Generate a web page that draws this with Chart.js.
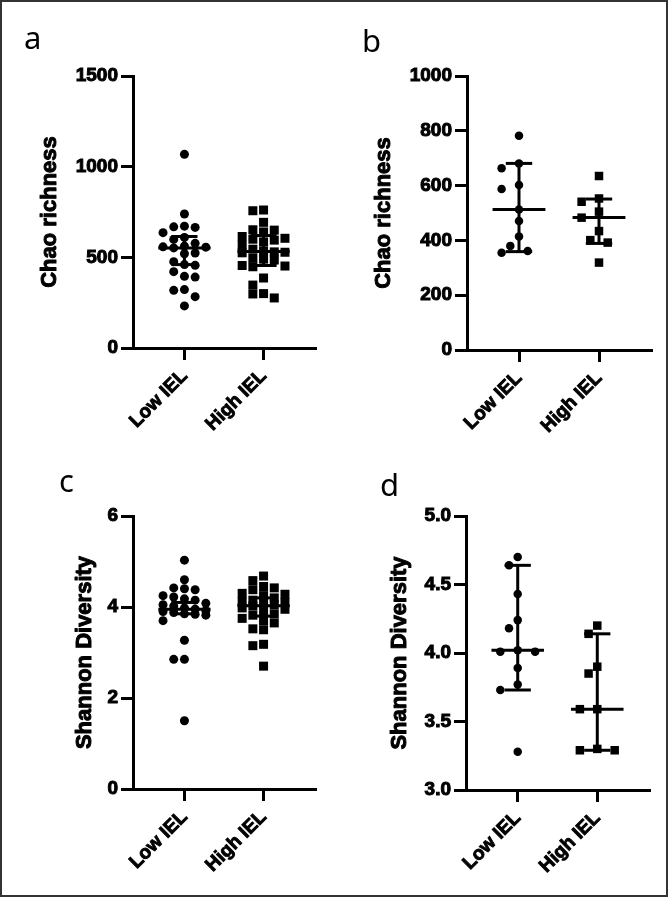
<!DOCTYPE html>
<html>
<head>
<meta charset="utf-8">
<script src="https://cdn.jsdelivr.net/npm/chart.js@4/dist/chart.umd.min.js"></script>
<style>
  html, body { margin: 0; padding: 0; background: #fff; }
  #fig { position: relative; width: 668px; height: 897px; background: #fff; overflow: hidden; }
  #fig canvas { position: absolute; }
  .lbl { position: absolute; font-family: 'Noto Sans', 'DejaVu Sans', sans-serif; font-weight: 400;
         font-size: 31px; line-height: 1; color: #000; }
  #frame { position: absolute; left: 0; top: 0; width: 668px; height: 897px; box-sizing: border-box;
           border: 2px solid #333; pointer-events: none; }
  #preload { position: absolute; left: -9999px; top: 0; font-family: 'Liberation Sans'; font-weight: bold; }
</style>
</head>
<body>
<div id="fig">
  <canvas id="ca" width="334" height="448" style="left:0px;top:0px;"></canvas>
  <canvas id="cb" width="334" height="448" style="left:334px;top:0px;"></canvas>
  <canvas id="cc" width="334" height="447" style="left:0px;top:450px;"></canvas>
  <canvas id="cd" width="334" height="447" style="left:334px;top:450px;"></canvas>
  <div class="lbl" style="left:24px;top:22px;">a</div>
  <div class="lbl" style="left:362px;top:25px;">b</div>
  <div class="lbl" style="left:59px;top:465px;">c</div>
  <div class="lbl" style="left:380px;top:469px;">d</div>
  <div id="frame"></div>
</div>
<div id="preload">Low IEL High 0123456789</div>
<script>
// ---------------- data ----------------
const categories = ['Low IEL', 'High IEL'];

// panel a : Chao richness (cohort 1)
const aLow  = [1068, 739, 672, 668, 665, 636, 610, 599, 577, 562, 558, 556, 552, 524, 520, 476, 460, 456, 421, 395, 391, 322, 318, 283, 232];
const aHigh = [761, 757, 693, 652, 650, 640, 615, 605, 600, 595, 585, 568, 545, 535, 530, 528, 525, 495, 490, 485, 455, 452, 448, 386, 347, 300, 298, 276];
const aMedian = [552, 532];
const aLower  = [460, 455];
const aUpper  = [615, 620];
const aTicks  = [0, 500, 1000, 1500];

// panel b : Chao richness (cohort 2)
const bLow  = [782, 681, 663, 602, 588, 513, 471, 414, 380, 361, 355];
const bHigh = [635, 553, 541, 505, 483, 434, 401, 392, 319];
const bMedian = [513, 484];
const bLower  = [359, 389];
const bUpper  = [681, 551];
const bTicks  = [0, 200, 400, 600, 800, 1000];

// panel c : Shannon diversity (cohort 1)
const cLow  = [5.03, 4.60, 4.42, 4.40, 4.38, 4.25, 4.22, 4.18, 4.15, 4.08, 4.05, 4.02, 3.98, 3.95, 3.92, 3.90, 3.88, 3.85, 3.84, 3.82, 3.70, 3.27, 2.85, 2.85, 1.50];
const cHigh = [4.68, 4.58, 4.45, 4.42, 4.38, 4.30, 4.28, 4.25, 4.20, 4.15, 4.12, 4.10, 4.08, 4.05, 4.02, 3.98, 3.95, 3.90, 3.85, 3.82, 3.75, 3.70, 3.65, 3.52, 3.50, 3.18, 3.15, 2.70];
const cMedian = [3.95, 4.03];
const cLower  = [3.85, 3.80];
const cUpper  = [4.10, 4.20];
const cTicks  = [0, 2, 4, 6];

// panel d : Shannon diversity (cohort 2)
const dLow  = [4.70, 4.64, 4.43, 4.24, 4.18, 4.02, 4.01, 4.01, 3.89, 3.77, 3.73, 3.28];
const dHigh = [4.20, 4.14, 3.90, 3.85, 3.59, 3.59, 3.30, 3.29, 3.29];
const dMedian = [4.02, 3.59];
const dLower  = [3.73, 3.29];
const dUpper  = [4.64, 4.14];
const dTicks  = [3.0, 3.5, 4.0, 4.5, 5.0];

// ---------------- drawing ----------------
const X_MIN = -0.65, X_MAX = 1.65;
const MED_HALF = 0.33, CAP_HALF = 0.165;
const FONT = "'Liberation Sans', Arial, sans-serif";

// heavy y-axis title (Chart.js titles have no stroke option)
const heavyTitle = {
  id: 'heavyTitle',
  afterDraw(chart, args, opts) {
    if (!opts || !opts.text) return;
    const y = chart.scales.y;
    const ctx = chart.ctx;
    ctx.save();
    ctx.translate(y.left + opts.x, (chart.chartArea.top + chart.chartArea.bottom) / 2);
    ctx.rotate(-Math.PI / 2);
    ctx.font = `bold ${opts.size}px ${FONT}`;
    ctx.textAlign = 'center';
    ctx.textBaseline = 'middle';
    ctx.fillStyle = '#000';
    ctx.strokeStyle = '#000';
    ctx.lineWidth = 1;
    ctx.lineJoin = 'round';
    ctx.fillText(opts.text, 0, 0);
    ctx.strokeText(opts.text, 0, 0);
    ctx.restore();
  }
};

// column beeswarm: values that would overlap are moved to side columns
function swarm(vals, cx, geo, yMin, yMax, diam, colStep, maxCols, clearF) {
  const pyu = (geo.bottom - geo.top) / (yMax - yMin);
  const pxu = (geo.right - geo.left) / (X_MAX - X_MIN);
  const order = vals.map((v, i) => i).sort((p, q) => vals[q] - vals[p]);
  const placed = [];
  const out = new Array(vals.length);
  const cands = [0];
  for (let k = 1; k <= maxCols; k++) { cands.push(-k * colStep, k * colStep); }
  order.forEach(i => {
    const yp = vals[i] * pyu;
    let best = null, bestClear = -1;
    for (const c of cands) {
      let clear = Infinity;
      placed.forEach(p => {
        const d = Math.hypot(p.x - c, p.y - yp);
        if (d < clear) clear = d;
      });
      if (clear >= diam * clearF) { best = c; break; }
      if (clear > bestClear) { bestClear = clear; best = c; }
    }
    placed.push({ x: best, y: yp });
    out[i] = { x: cx + best / pxu, y: vals[i] };
  });
  return out;
}

function buildChart(id, geo, spec) {
  const yMin = spec.ticks[0], yMax = spec.ticks[spec.ticks.length - 1];
  const datasets = [];
  [spec.low, spec.high].forEach((vals, gi) => {
    const isCircle = gi === 0;
    const diam = isCircle ? spec.circleD : spec.squareS;
    datasets.push({
      type: 'scatter',
      data: swarm(vals, gi, geo, yMin, yMax, diam, spec.colStep, spec.maxCols, spec.clearF),
      pointStyle: isCircle ? 'circle' : 'rect',
      pointRadius: isCircle ? diam / 2 : diam / Math.SQRT2,
      pointHoverRadius: isCircle ? diam / 2 : diam / Math.SQRT2,
      backgroundColor: '#000', borderColor: '#000', borderWidth: 0,
      order: 2
    });
    const m = spec.median[gi], lo = spec.lower[gi], hi = spec.upper[gi];
    const segs = [
      [[gi - MED_HALF, m], [gi + MED_HALF, m]],
      [[gi, lo], [gi, hi]],
      [[gi - CAP_HALF, hi], [gi + CAP_HALF, hi]],
      [[gi - CAP_HALF, lo], [gi + CAP_HALF, lo]]
    ];
    segs.forEach(s => datasets.push({
      type: 'scatter', showLine: true,
      data: s.map(p => ({ x: p[0], y: p[1] })),
      borderColor: '#000', borderWidth: 3, pointRadius: 0, pointHoverRadius: 0,
      order: 1
    }));
  });

  return new Chart(document.getElementById(id), {
    type: 'scatter',
    data: { datasets },
    plugins: [heavyTitle],
    options: {
      responsive: false, animation: false, devicePixelRatio: 1, events: [],
      layout: { padding: { left: 0, top: geo.top, right: geo.w - geo.right, bottom: 0 } },
      plugins: {
        legend: { display: false }, tooltip: { enabled: false },
        heavyTitle: { text: spec.title, size: 22, x: geo.titleX }
      },
      scales: {
        x: {
          type: 'linear', min: X_MIN, max: X_MAX,
          afterBuildTicks: s => { s.ticks = categories.map((c, i) => ({ value: i })); },
          afterFit: s => { s.height = geo.h - geo.bottom; },
          ticks: {
            autoSkip: false, minRotation: 45, maxRotation: 45, padding: 5,
            color: '#000', font: { family: FONT, size: 19, weight: 'bold' },
            textStrokeColor: '#000', textStrokeWidth: 0.9,
            callback: v => categories[v]
          },
          grid: { drawOnChartArea: false, drawTicks: true, tickLength: 12, lineWidth: 3, color: '#000' },
          border: { display: true, color: '#000', width: 3 }
        },
        y: {
          type: 'linear', min: yMin, max: yMax,
          afterBuildTicks: s => { s.ticks = spec.ticks.map(v => ({ value: v })); },
          afterFit: s => { s.width = geo.left; },
          ticks: {
            padding: 3, color: '#000', font: { family: FONT, size: 19, weight: 'bold' },
            textStrokeColor: '#000', textStrokeWidth: 1,
            callback: v => spec.decimals ? Number(v).toFixed(spec.decimals) : String(v)
          },
          grid: { drawOnChartArea: false, drawTicks: true, tickLength: 12, lineWidth: 3, color: '#000' },
          border: { display: true, color: '#000', width: 3 },
          title: { display: false, text: spec.title }
        }
      }
    }
  });
}

function buildAll() {
  buildChart('ca', { w: 334, h: 448, left: 133, right: 315, top: 76, bottom: 348, titleX: 50 },
    { low: aLow, high: aHigh, median: aMedian, lower: aLower, upper: aUpper, ticks: aTicks,
      title: 'Chao richness', decimals: 0, circleD: 9, squareS: 9, colStep: 10.7, maxCols: 2, clearF: 0.95 });
  buildChart('cb', { w: 334, h: 448, left: 133, right: 317, top: 76, bottom: 350, titleX: 50 },
    { low: bLow, high: bHigh, median: bMedian, lower: bLower, upper: bUpper, ticks: bTicks,
      title: 'Chao richness', decimals: 0, circleD: 8.5, squareS: 8.5, colStep: 8.7, maxCols: 2, clearF: 1.25 });
  buildChart('cc', { w: 334, h: 447, left: 133, right: 315, top: 66, bottom: 339, titleX: 85 },
    { low: cLow, high: cHigh, median: cMedian, lower: cLower, upper: cUpper, ticks: cTicks,
      title: 'Shannon Diversity', decimals: 0, circleD: 9, squareS: 9, colStep: 10.7, maxCols: 2, clearF: 0.95 });
  buildChart('cd', { w: 334, h: 447, left: 132, right: 315, top: 66, bottom: 340, titleX: 66 },
    { low: dLow, high: dHigh, median: dMedian, lower: dLower, upper: dUpper, ticks: dTicks,
      title: 'Shannon Diversity', decimals: 1, circleD: 8.5, squareS: 8.5, colStep: 8.7, maxCols: 2, clearF: 1.25 });
}

const fontLoads = [
  "bold 18px 'Liberation Sans'", "bold 19px 'Liberation Sans'", "bold 22px 'Liberation Sans'"
].map(f => document.fonts.load(f).catch(() => null));
Promise.all(fontLoads).then(buildAll, buildAll);
</script>
</body>
</html>
